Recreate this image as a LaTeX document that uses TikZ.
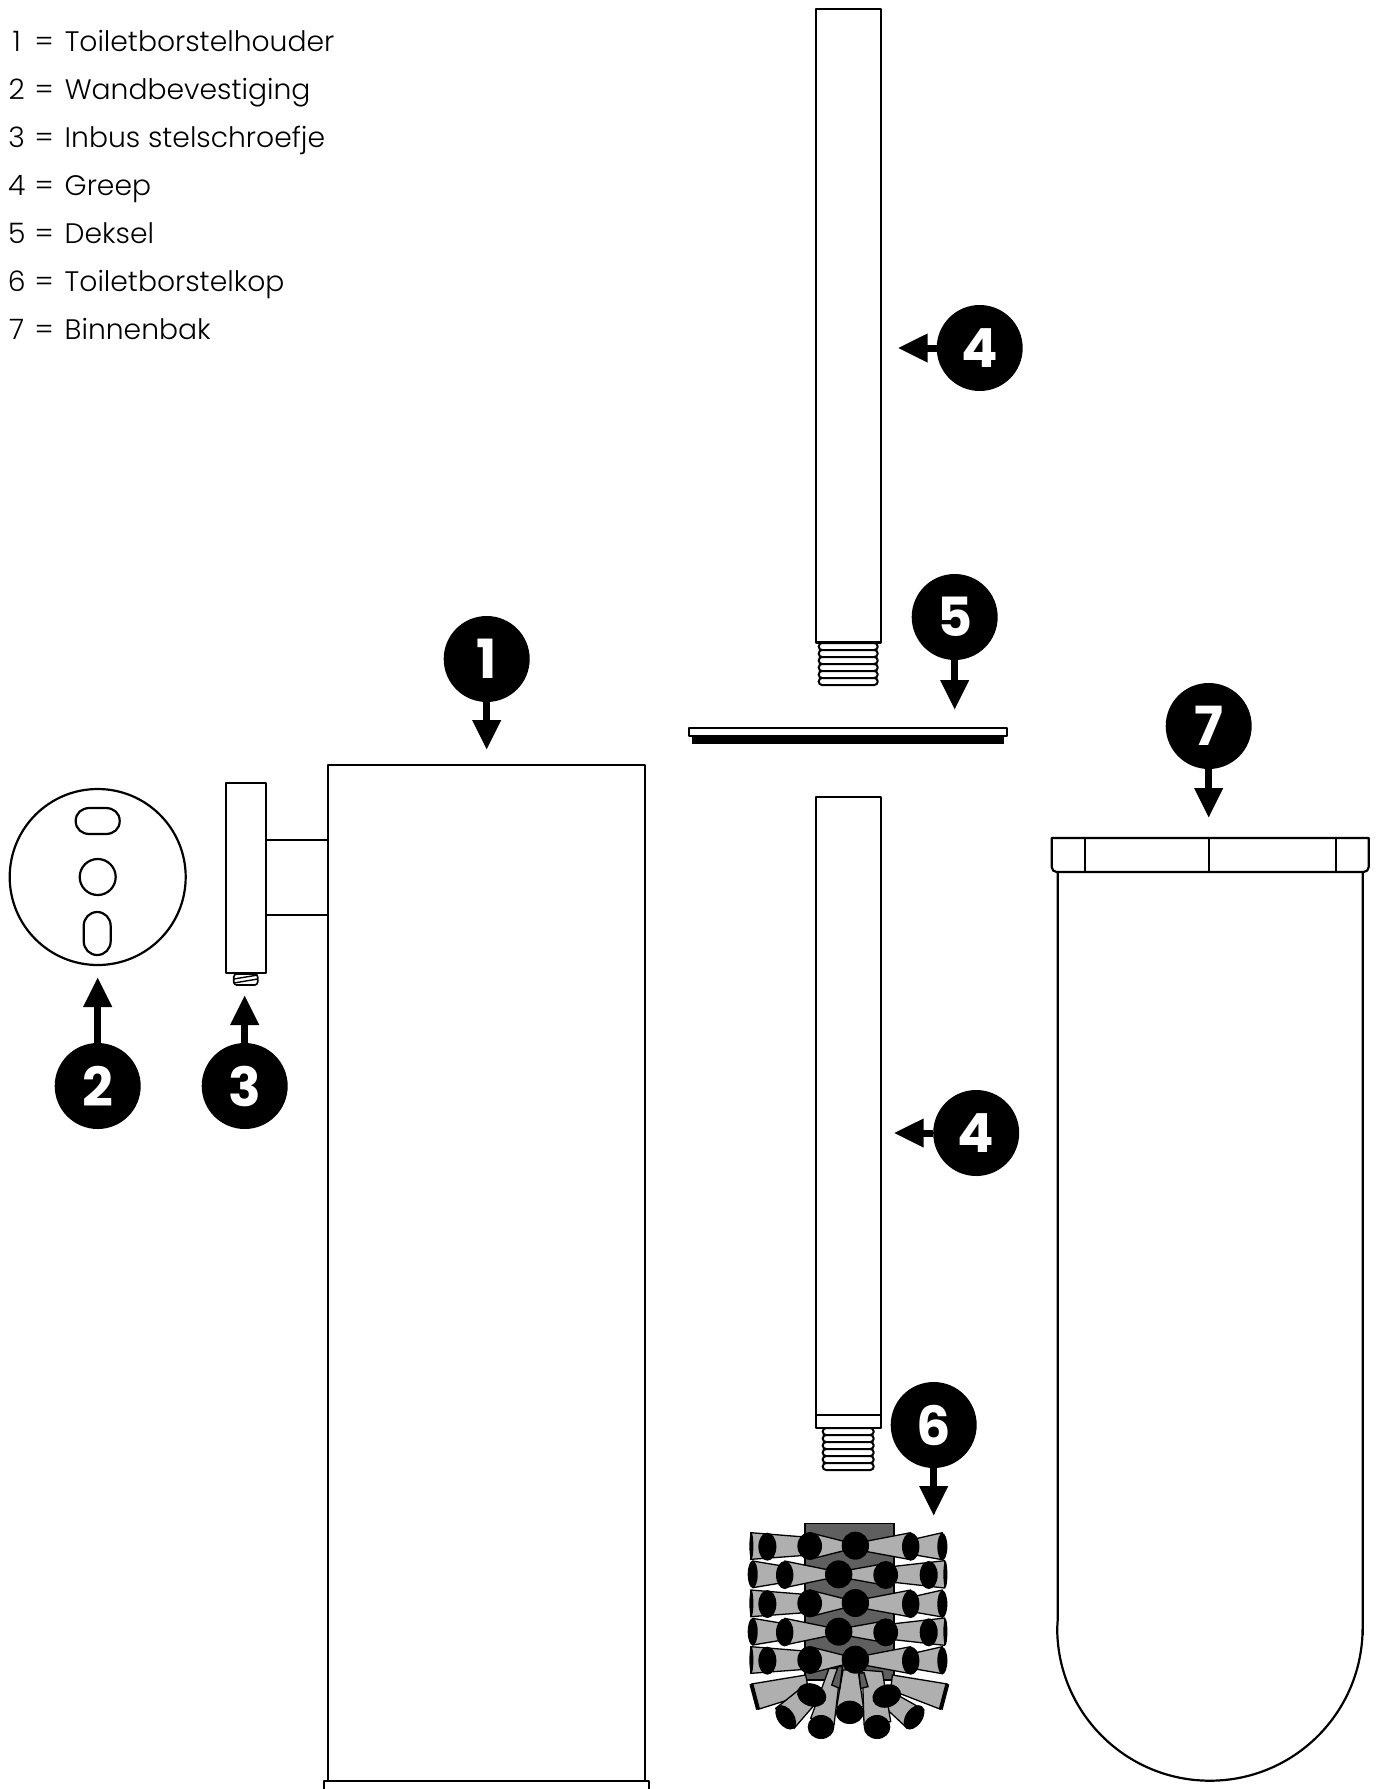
\documentclass[tikz,border=0pt]{standalone}
\usepackage{fontspec}
\setmainfont{Poppins}
\newfontfamily\legendfont{Poppins Light}
\usetikzlibrary{arrows.meta}
\definecolor{coredark}{HTML}{5F5F5F}
\definecolor{bristle}{HTML}{AFAFAF}
\tikzset{
  part/.style={draw=black,line width=2.2pt,fill=white,line join=round},
  badge/.style={circle,fill=black,minimum size=86pt,inner sep=0pt,text=white,font=\fontsize{54}{54}\selectfont\bfseries},
  pointer/.style={line width=7pt,-{Triangle[length=30pt,width=27pt]}},
  legend/.style={anchor=base west,inner sep=0pt,font=\legendfont\fontsize{28.2}{28.2}\selectfont},
  rib/.style={draw=black,line width=2pt,fill=white,rounded corners=3.4pt},
  tuft/.style={draw=black,line width=1.3pt,fill=bristle,line join=round},
}
\newcommand{\legendrow}[4]{\node[legend] (#1) at (5.500,#2) {\makebox[22pt][c]{#3}\hspace{7pt}=\hspace{11pt}#4};}
\newcommand{\threads}[3]{\foreach \k in {0,...,5} {\draw[rib] (#1,{#3+\k*7}) rectangle (#2,{#3+7+\k*7});}}
\newcommand{\rowA}[1]{
  \path[tuft] (90,#1-40) -- (90,#1+40) -- (240,#1+29) -- (240,#1-28) -- cycle;
  \path[tuft] (267,#1-40) -- (370,#1-14) -- (370,#1+14) -- (267,#1+40) -- cycle;
  \path[tuft] (440,#1-15) -- (440,#1+17) -- (570,#1+41) -- (570,#1-40) -- cycle;
  \path[tuft] (590,#1-23) -- (590,#1+28) -- (665,#1+41) -- (665,#1-40) -- cycle;
  \fill (92,#1) ellipse [x radius=6,y radius=40];
  \fill (140,#1+2) ellipse [x radius=27,y radius=42];
  \fill (267,#1) ellipse [x radius=37,y radius=42];
  \fill (404,#1-1) ellipse [x radius=41,y radius=42];
  \fill (570,#1+2) ellipse [x radius=26,y radius=42];
  \fill (665,#1+2) ellipse [x radius=15,y radius=41];
}
\newcommand{\rowB}[1]{
  \path[tuft] (96,#1-40) -- (96,#1+40) -- (192,#1+24) -- (192,#1-24) -- cycle;
  \path[tuft] (192,#1-40) -- (320,#1-14) -- (320,#1+13) -- (192,#1+40) -- cycle;
  \path[tuft] (390,#1-14) -- (390,#1+14) -- (495,#1+33) -- (495,#1-33) -- cycle;
  \path[tuft] (520,#1-24) -- (520,#1+24) -- (672,#1+41) -- (672,#1-41) -- cycle;
  \fill (96,#1) ellipse [x radius=15,y radius=41];
  \fill (192,#1+2) ellipse [x radius=26,y radius=42];
  \fill (354,#1) ellipse [x radius=41,y radius=42];
  \fill (495,#1+2) ellipse [x radius=37,y radius=42];
  \fill (624,#1+2) ellipse [x radius=27,y radius=42];
  \fill (674,#1) ellipse [x radius=6,y radius=40];
}
\begin{document}
\begin{tikzpicture}[x=1pt,y=-1pt]
\useasboundingbox (0,0) rectangle (1377,1789);
% legend
\legendrow{l1}{51.600}{1}{Toiletborstelhouder}
\legendrow{l2}{99.600}{2}{Wandbevestiging}
\legendrow{l3}{147.600}{3}{Inbus stelschroefje}
\legendrow{l4}{195.600}{4}{Greep}
\legendrow{l5}{243.600}{5}{Deksel}
\legendrow{l6}{291.600}{6}{Toiletborstelkop}
\legendrow{l7}{339.600}{7}{Binnenbak}
\begin{scope}[xshift=0.7pt]
% wall plate
\draw[part] (97,877) circle [radius=88];
\draw[part] (75,821) .. controls (75,813) and (81,808) .. (89,808) -- (105,808) .. controls (113,808) and (119,813) .. (119,821) .. controls (119,829) and (113,834) .. (105,834) -- (89,834) .. controls (81,834) and (75,829) .. (75,821) -- cycle;
\draw[part] (97,877) circle [radius=18];
\draw[part] (83,926) .. controls (83,918) and (89,912) .. (96.500,912) .. controls (104,912) and (110,918) .. (110,926) -- (110,941) .. controls (110,949) and (104,955) .. (96.500,955) .. controls (89,955) and (83,949) .. (83,941) -- cycle;
% side bracket
\draw[part] (265,840) rectangle (328,915);
\draw[part] (225,783) rectangle (265,973);
\draw[part,line width=1.6pt,rounded corners=3pt] (233,974) rectangle (257,985);
\draw[line width=1.4pt] (233,979) -- (257,975) (233,983) -- (257,979);
% holder
\draw[part] (327.500,765) rectangle (644,1781);
\draw[part] (323,1790) -- (323,1781) -- (648,1781) -- (648,1790);
% upper handle
\draw[part] (815,9) rectangle (880,642.500);
\threads{818}{877}{643}
% lid
\fill (691,736) rectangle (1003,744);
\draw[part] (688,728) rectangle (1006,736);
% lower handle
\draw[part] (815,797) rectangle (880,1428);
\draw[part] (815,1415) -- (880,1415);
\threads{822}{873}{1428}
% inner bin
\draw[part] (1057,872) -- (1057,1620) -- (1056.500,1628) arc [start angle=180,end angle=0,radius=152.700] -- (1362,1635) -- (1362,872);
\draw[part] (1051,838) -- (1368,838) [rounded corners=5pt] -- (1368,872) -- (1051,872) [sharp corners] -- cycle;
\draw[part] (1084,838) -- (1084,872) (1208,838) -- (1208,872) (1335,838) -- (1335,872);
% brush
\begin{scope}[shift={(720,1480)},scale=1/3,x=1pt,y=-1pt]
\draw[line width=1.6pt,fill=coredark] (253,131) rectangle (519,600);
\path[tuft] (92,612) -- (112,688) -- (265,640) -- (255,585) -- cycle;
\path[tuft] (680,612) -- (660,688) -- (510,630) -- (515,585) -- cycle;
\draw[line width=4pt] (92,612) -- (112,688) (680,612) -- (660,688);
\path[tuft] (240,625) -- (165,685) -- (220,745) -- (285,670) -- cycle;
\path[tuft] (495,625) -- (610,690) -- (560,745) -- (490,680) -- cycle;
\path[tuft] (325,565) -- (270,715) -- (340,735) -- (360,565) -- cycle;
\path[tuft] (425,570) -- (485,575) -- (510,725) -- (430,735) -- cycle;
\path[tuft] (367,570) -- (412,570) -- (428,680) -- (348,680) -- cycle;
\draw[line width=1.3pt,fill=coredark] (352,560) -- (365,560) -- (357,625) -- (333,615) -- cycle;
\draw[line width=1.3pt,fill=coredark] (415,580) -- (430,578) -- (442,620) -- (420,625) -- cycle;
\fill[rotate around={-55:(195,712)}] (195,712) ellipse [x radius=41,y radius=25];
\fill[rotate around={55:(580,712)}] (580,712) ellipse [x radius=41,y radius=25];
\fill (301,741) ellipse [x radius=40,y radius=36];
\fill (469,741) ellipse [x radius=40,y radius=36];
\fill (387,697) ellipse [x radius=42,y radius=35];
\fill[rotate around={-20:(273,645)}] (273,645) ellipse [x radius=45,y radius=34];
\fill[rotate around={20:(498,648)}] (498,648) ellipse [x radius=44,y radius=34];
\rowA{540}
\rowB{455}
\rowA{370}
\rowB{283}
\rowA{198}
\end{scope}
% badges and pointers
\node[badge] (b1) at (486,659) {1};
\node[badge] (b2) at (97,1086) {2};
\node[badge] (b3) at (244,1086) {3};
\node[badge] (b4a) at (979,348) {4};
\node[badge] (b4b) at (975.500,1133) {4};
\node[badge] (b5) at (954,617) {5};
\node[badge] (b6) at (933,1425) {6};
\node[badge] (b7) at (1208,726) {7};
\coordinate (t1) at (486,750);
\coordinate (t2) at (97,977);
\coordinate (t3) at (244,995);
\coordinate (t4a) at (897,348);
\coordinate (t4b) at (893,1133);
\coordinate (t5) at (954,710);
\coordinate (t6) at (933,1516);
\coordinate (t7) at (1208,818);
\foreach \s/\e in {b1/t1,b2/t2,b3/t3,b4a/t4a,b4b/t4b,b5/t5,b6/t6,b7/t7} {\draw[pointer] (\s) -- (\e);}
\end{scope}
\end{tikzpicture}
\end{document}
